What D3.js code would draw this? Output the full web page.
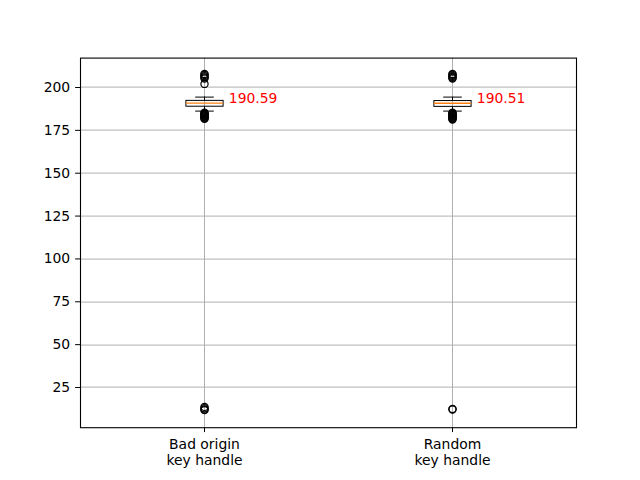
<!DOCTYPE html>
<html>
<head>
<meta charset="utf-8">
<script src="https://cdn.jsdelivr.net/npm/d3@7"></script>
<style>
  body { margin: 0; background: #fff; }
  svg { display: block; font-family: "DejaVu Sans", sans-serif; }
</style>
</head>
<body>
<script>
// values
var categories = [["Bad origin", "key handle"], ["Random", "key handle"]];
var medians = [190.59, 190.51];
var q1 = [188.8, 188.7];
var q3 = [192.2, 192.1];
var whiskerLow = [186.4, 186.3];
var whiskerHigh = [194.4, 194.3];
var outliersHigh = [
  [207.6, 207.0, 206.3, 205.6, 205.0, 201.8],
  [207.6, 207.1, 206.5, 206.0, 205.4, 204.9]
];
var outliersLow = [
  [185.0, 184.6, 184.2, 183.8, 183.4, 183.0, 182.6, 182.2, 181.8, 181.4],
  [185.0, 184.6, 184.2, 183.8, 183.4, 183.0, 182.6, 182.2, 181.8, 181.4, 181.0]
];
var outliersBottom = [
  [13.4, 12.6, 11.9, 11.5],
  [12.2, 11.9]
];
var yTicks = [25, 50, 75, 100, 125, 150, 175, 200];

var width = 640, height = 480;
var margins = {top: 57.6, left: 80, bottom: 52.8, right: 64};
var plotW = width - margins.left - margins.right;
var plotH = height - margins.top - margins.bottom;

var svg = d3.select("body").append("svg")
    .attr("width", width)
    .attr("height", height);

var xScale = d3.scaleLinear().domain([0.5, 2.5]).range([0, plotW]);
var yScale = d3.scaleLinear().domain([1.55, 217.15]).range([plotH, 0]);

var plot = svg.append("g")
    .attr("transform", "translate(" + margins.left + "," + margins.top + ")");

var gridColor = "#b0b0b0";

// grid
plot.selectAll("line.hgrid")
    .data(yTicks)
    .enter().append("line")
    .attr("class", "hgrid")
    .attr("x1", 0).attr("x2", plotW)
    .attr("y1", function(d){ return Math.round(yScale(d)) + 0.5; })
    .attr("y2", function(d){ return Math.round(yScale(d)) + 0.5; })
    .attr("stroke", gridColor).attr("stroke-width", 1);

plot.selectAll("line.vgrid")
    .data([1, 2])
    .enter().append("line")
    .attr("class", "vgrid")
    .attr("y1", 0).attr("y2", plotH)
    .attr("x1", function(d){ return Math.round(xScale(d)) + 0.5; })
    .attr("x2", function(d){ return Math.round(xScale(d)) + 0.5; })
    .attr("stroke", gridColor).attr("stroke-width", 1);

// boxes
var boxW = xScale(1.15) - xScale(1);
var capW = boxW / 2;

var boxes = plot.selectAll("g.box")
    .data(medians)
    .enter().append("g")
    .attr("class", "box");

boxes.each(function(m, i) {
  var g = d3.select(this);
  var cx = Math.round(xScale(i + 1)) + 0.5;

  // whiskers
  g.append("line")
      .attr("x1", cx).attr("x2", cx)
      .attr("y1", yScale(q3[i])).attr("y2", yScale(whiskerHigh[i]))
      .attr("stroke", "black");
  g.append("line")
      .attr("x1", cx).attr("x2", cx)
      .attr("y1", yScale(q1[i])).attr("y2", yScale(whiskerLow[i]))
      .attr("stroke", "black");
  // caps
  [whiskerHigh[i], whiskerLow[i]].forEach(function(v) {
    var y = Math.round(yScale(v)) + 0.5;
    g.append("line")
        .attr("x1", cx - capW / 2).attr("x2", cx + capW / 2)
        .attr("y1", y).attr("y2", y)
        .attr("stroke", "black");
  });
  // box
  g.append("rect")
      .attr("x", cx - boxW / 2)
      .attr("y", yScale(q3[i]))
      .attr("width", boxW)
      .attr("height", yScale(q1[i]) - yScale(q3[i]))
      .attr("fill", "none")
      .attr("stroke", "black");
  // median
  g.append("line")
      .attr("x1", cx - boxW / 2).attr("x2", cx + boxW / 2)
      .attr("y1", yScale(m)).attr("y2", yScale(m))
      .attr("stroke", "#ff7f0e").attr("stroke-width", 1.4);

  // fliers
  var fl = outliersHigh[i].concat(outliersLow[i]).concat(outliersBottom[i]);
  g.selectAll("circle")
      .data(fl)
      .enter().append("circle")
      .attr("cx", cx)
      .attr("cy", function(d){ return yScale(d); })
      .attr("r", 3.6)
      .attr("fill", "none")
      .attr("stroke", "black")
      .attr("stroke-width", 1.2);

  // median label
  g.append("text")
      .attr("x", xScale(i + 1.1))
      .attr("y", yScale(m))
      .attr("fill", "red")
      .attr("font-size", "13.9px")
      .text(m.toFixed(2));
});

// spines
plot.append("rect")
    .attr("x", 0.5).attr("y", 0.5)
    .attr("width", plotW).attr("height", plotH)
    .attr("fill", "none")
    .attr("stroke", "black")
    .attr("stroke-width", 1.1);

// y axis
var yAxis = plot.append("g")
    .call(d3.axisLeft(yScale).tickValues(yTicks).tickSize(4.9).tickPadding(4.9));
yAxis.select(".domain").remove();
yAxis.selectAll("text").attr("font-size", "13.9px").attr("fill", "black")
    .attr("font-family", "DejaVu Sans");

// x axis
var xAxis = plot.append("g")
    .attr("transform", "translate(0," + plotH + ")")
    .call(d3.axisBottom(xScale).tickValues([1, 2]).tickSize(4.9).tickFormat(""));
xAxis.select(".domain").remove();

xAxis.selectAll("g.tick").each(function(d, i) {
  var t = d3.select(this).append("text")
      .attr("fill", "black")
      .attr("font-size", "13.9px")
      .attr("font-family", "DejaVu Sans")
      .attr("text-anchor", "middle")
      .attr("y", 21.5);
  categories[i].forEach(function(line, k) {
    t.append("tspan").attr("x", 0).attr("dy", k === 0 ? 0 : 16.2).text(line);
  });
});
</script>
</body>
</html>
